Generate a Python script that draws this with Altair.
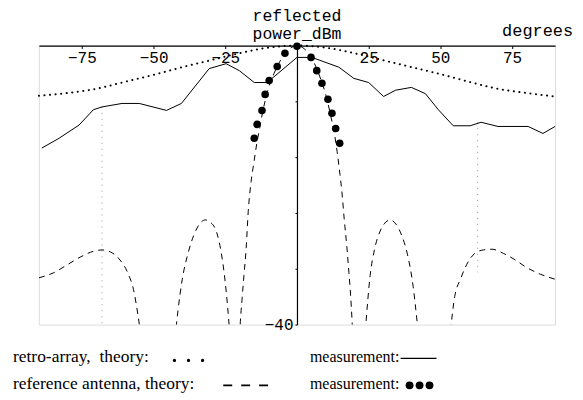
import altair as alt
import pandas as pd

# ---------------- data ----------------
# retro-array, theory (dotted)
theory_retro_angle = [-90, -80, -70, -60, -50, -40, -30, -20, -10, 0, 10, 20, 30, 40, 50, 60, 70, 80, 90]
theory_retro_db = [-7.2, -6.8, -6.2, -5.2, -4.2, -3.1, -2.1, -1.1, -0.3, 0.0, -0.3, -1.1, -2.1, -3.1, -4.1, -5.2, -6.2, -6.8, -7.3]

# retro-array, measurement (solid)
meas_retro_angle = [-89, -83, -76, -71, -68, -61, -55, -45.5, -40.3, -30.6, -24.7, -20.1, -14.9, -10.4, 0,
                    5.2, 14.6, 19.8, 25, 30.2, 34.4, 39.9, 44.8, 49.3, 54.5, 60.4, 64.2, 70.1, 80.6, 85.8, 90]
meas_retro_db = [-14.7, -13.3, -11.4, -9.2, -8.8, -8.3, -8.3, -9.3, -8.3, -3.3, -2.6, -3.6, -5.3, -5.3, -1.7,
                 -1.7, -3.1, -4.7, -5.3, -7.3, -6.4, -6.0, -6.9, -9.2, -11.5, -11.5, -11.0, -11.6, -11.6, -12.6, -11.6]

# reference antenna, theory (dashed)
theory_ref_angle = [-90, -85, -80, -75, -71, -68, -65, -62, -59, -57, -55.5, -54, -51, -48, -45, -43, -41.5,
                    -40, -38, -36, -34, -32, -30, -28, -26.5, -25, -23.5, -21, -20, -19.1, -18.5, -17.7, -17,
                    -16, -15, -14, -13, -12, -10, -8, -6, -4, -2, 0,
                    2, 4, 6, 8, 10, 12, 13, 14, 15, 15.6, 16.5, 17.4, 18.1, 18.75, 19.5, 21, 22.5, 24,
                    25.5, 27, 29, 31, 32.5, 34.5, 36.5, 38.5, 40.5, 42, 45, 48, 51, 53.5, 55, 57, 60, 62,
                    65, 68, 72, 76, 80, 85, 90]
theory_ref_db = [-33.3, -32.6, -31.4, -30.2, -29.5, -29.3, -29.6, -30.6, -32.6, -35.0, -38.5, -43, -52, -60, -52,
                 -44, -38, -33.5, -29.8, -27.2, -25.6, -25.0, -25.4, -26.8, -29.5, -34, -41, -60, -42, -36.1,
                 -33, -28.9, -23.8, -19.5, -16.7, -14.0, -11.8, -9.6, -6.2, -4.0, -2.3, -1.1, -0.3, 0.0,
                 -0.3, -1.1, -2.5, -4.5, -7.0, -10.5, -12.5, -15.2, -18.5, -20.7, -25, -28.9, -32.5, -36.1,
                 -42, -60, -48, -40, -33, -29.3, -26.6, -25.3, -25.0, -25.6, -27.2, -29.9, -34.5, -40, -52,
                 -60, -52, -41, -36, -33.5, -30.8, -29.8, -29.3, -29.2, -29.8, -30.7, -31.8, -32.8, -33.5]

# reference antenna, measurement (dots)
meas_ref_angle = [-14.9, -13.9, -12.2, -11.1, -9.7, -6.9, -4.2, 0, 4.9, 6.9, 8.7, 10.8, 12.2, 13.5, 14.9]
meas_ref_db = [-13.3, -11.3, -9.3, -7.0, -5.0, -3.0, -1.1, -0.1, -1.7, -3.6, -5.4, -7.7, -9.7, -11.9, -14.0]

# faint vertical grid lines
grid_angle = [-68, 63]
grid_top = [-8.8, -11.0]
grid_bottom = [-40, -32.5]

x_ticks = [-75, -50, -25, 25, 50, 75]
y_ticks = list(range(-40, 1))

y_title = "reflected\npower_dBm"
x_title = "degrees"
NB = "\u00a0"
legend_labels = ["retro-array," + NB + NB + "theory:", "reference antenna, theory:", "measurement:", "measurement:"]

# ---------------- chart ----------------
W, H = 518, 280
MONO = "Liberation Mono"
SERIF = "Liberation Serif"

xs = alt.Scale(domain=[-90, 90], nice=False, zero=False)
ys = alt.Scale(domain=[-40, 0], nice=False, zero=False)

df_retro_t = pd.DataFrame({"angle": theory_retro_angle, "db": theory_retro_db})
df_retro_m = pd.DataFrame({"angle": meas_retro_angle, "db": meas_retro_db})
df_ref_t = pd.DataFrame({"angle": theory_ref_angle, "db": theory_ref_db})
df_ref_m = pd.DataFrame({"angle": meas_ref_angle, "db": meas_ref_db})
df_grid = pd.DataFrame({"angle": grid_angle, "top": grid_top, "bottom": grid_bottom})

x_axis = alt.Axis(
    values=x_ticks, orient="bottom", offset=-H, grid=False,
    domainColor="black", domainWidth=1.2, tickColor="black", tickSize=3, tickWidth=1,
    labelFont=MONO, labelFontSize=16, labelColor="black", labelPadding=1,
    labelFlush=False, labelOverlap=False,
    title=x_title, titleFont=MONO, titleFontSize=17, titleFontWeight="normal", titleColor="black",
    titleX=500, titleY=-10, titleAlign="center", titleBaseline="alphabetic", titleAnchor="start",
)
y_axis = alt.Axis(
    values=y_ticks, orient="left", offset=-W / 2, grid=False,
    domainColor="black", domainWidth=1.2, tickColor="black", tickSize=2, tickWidth=1,
    labelFont=MONO, labelFontSize=16, labelColor="black", labelPadding=2,
    labelExpr="(datum.value % 10 == 0 && datum.value != 0) ? datum.label : ''",
    labelOverlap=False, labelFlush=False, title=None,
)

grid = alt.Chart(df_grid).mark_rule(color="#999999", strokeWidth=1, strokeDash=[1, 5]).encode(
    x=alt.X("angle:Q", scale=xs, axis=x_axis),
    y=alt.Y("top:Q", scale=ys, axis=y_axis),
    y2="bottom:Q",
)

dotted = alt.Chart(df_retro_t).mark_line(
    color="black", strokeWidth=2, strokeDash=[0.1, 5.5], strokeCap="round", interpolate="monotone"
).encode(x=alt.X("angle:Q", scale=xs), y=alt.Y("db:Q", scale=ys))

solid = alt.Chart(df_retro_m).mark_line(color="black", strokeWidth=1).encode(
    x=alt.X("angle:Q", scale=xs), y=alt.Y("db:Q", scale=ys)
)

dashed = alt.Chart(df_ref_t).mark_line(
    color="black", strokeWidth=1, strokeDash=[6, 5], interpolate="monotone", clip=True
).encode(x=alt.X("angle:Q", scale=xs), y=alt.Y("db:Q", scale=ys))

dots = alt.Chart(df_ref_m).mark_circle(color="black", opacity=1, size=58).encode(
    x=alt.X("angle:Q", scale=xs), y=alt.Y("db:Q", scale=ys)
)

# y-axis title, two lines, centred on the 0-degree axis above the plot
ytitle = alt.Chart(pd.DataFrame({"angle": [0], "t": [y_title]})).mark_text(
    font=MONO, fontSize=16.5, color="black", align="center", baseline="top", lineBreak="\n", lineHeight=18
).encode(x=alt.X("angle:Q", scale=xs), y=alt.value(-38), text="t:N")

# ----- text legend below the plot (pixel offsets from the plot's top-left) -----
one = pd.DataFrame({"k": [0]})
LX = -26
L1, L2 = 313, 340
MX = 272


def label(txt, x, y, size):
    return alt.Chart(one).mark_text(
        font=SERIF, fontSize=size, color="black", align="left", baseline="middle"
    ).encode(x=alt.value(x), y=alt.value(y), text=alt.value(txt))


leg = [
    label(legend_labels[0], LX, L1, 17.5),
    label(legend_labels[1], LX, L2, 17.5),
    label(legend_labels[2], MX, L1, 16),
    label(legend_labels[3], MX, L2, 16),
    alt.Chart(one).mark_rule(color="black", strokeWidth=3.2, strokeDash=[0.1, 14], strokeCap="round").encode(
        x=alt.value(136), x2=alt.value(166), y=alt.value(L1 + 3)),
    alt.Chart(one).mark_rule(color="black", strokeWidth=1.6, strokeDash=[9, 9]).encode(
        x=alt.value(185), x2=alt.value(230), y=alt.value(L2 + 1)),
    alt.Chart(one).mark_rule(color="black", strokeWidth=1.2).encode(
        x=alt.value(363), x2=alt.value(399), y=alt.value(L1 + 1)),
]
for cx in [372, 382, 392]:
    leg.append(alt.Chart(one).mark_circle(color="black", opacity=1, size=62).encode(
        x=alt.value(cx), y=alt.value(L2 + 1)))

chart = alt.layer(grid, dotted, solid, dashed, dots, ytitle, *leg).properties(
    width=W, height=H,
    autosize=alt.AutoSizeParams(type="none"),
    padding={"left": 31, "top": 37, "right": 20, "bottom": 70},
).configure_view(stroke=None).configure(background="white")

chart.save("out.html", embed_options={"renderer": "svg", "actions": False})
